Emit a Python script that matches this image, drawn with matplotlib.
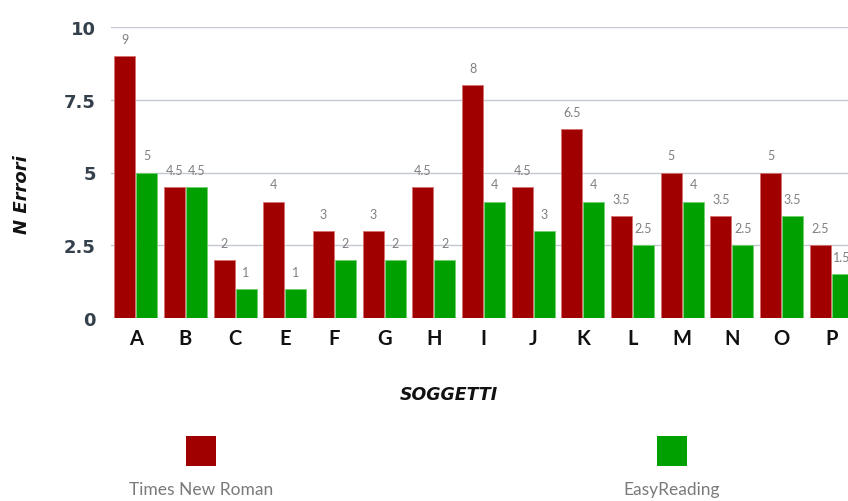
import numpy as np
import matplotlib.pyplot as plt
from matplotlib.patches import Rectangle

soggetti = ["A", "B", "C", "E", "F", "G", "H", "I", "J", "K", "L", "M", "N", "O", "P"]
times_new_roman = [9, 4.5, 2, 4, 3, 3, 4.5, 8, 4.5, 6.5, 3.5, 5, 3.5, 5, 2.5]
easy_reading = [5, 4.5, 1, 1, 2, 2, 2, 4, 3, 4, 2.5, 4, 2.5, 3.5, 1.5]
y_ticks = [0, 2.5, 5, 7.5, 10]
y_tick_labels = ["0", "2.5", "5", "7.5", "10"]

RED = "#a00000"
GREEN = "#00a000"
plt.rcParams["font.family"] = ["Lato", "DejaVu Sans"]

fig = plt.figure(figsize=(8.48, 5.02), dpi=100)
# axes run past the right edge on purpose: the reference is cropped there
ax = fig.add_axes([111 / 848, 183 / 502, 745 / 848, 291 / 502])

x = np.arange(len(soggetti))
w = 0.42
b1 = ax.bar(x - 0.22, times_new_roman, w, color=RED, edgecolor="#d87070", linewidth=0.6, zorder=3)
b2 = ax.bar(x + 0.22, easy_reading, w, color=GREEN, edgecolor="#70d070", linewidth=0.6, zorder=3)

for bars, vals in ((b1, times_new_roman), (b2, easy_reading)):
    for r, v in zip(bars, vals):
        ax.annotate(f"{v:g}", (r.get_x() + r.get_width() / 2, v), xytext=(0, 8),
                    textcoords="offset points", ha="center", va="bottom",
                    fontsize=9, color="#808080")

ax.set_xlim(-0.5, len(soggetti) - 0.5)
ax.set_ylim(0, 10)
ax.set_yticks(y_ticks)
ax.set_yticklabels(y_tick_labels, fontsize=13, fontweight="bold", color="#34404c",
                   family="DejaVu Sans")
ax.set_xticks(x)
ax.set_xticklabels(soggetti, fontsize=14.5, fontweight="bold", color="#111111")
ax.tick_params(axis="y", length=0, pad=11)
ax.tick_params(axis="x", length=0, pad=7)
for s in ax.spines.values():
    s.set_visible(False)
ax.grid(axis="y", color="#c4c8d0", linewidth=1, zorder=0)
ax.set_axisbelow(True)

fig.text(449 / 848, 1 - 395 / 502, "SOGGETTI", ha="center", va="center", family="DejaVu Sans",
         fontsize=12.5, fontweight="bold", fontstyle="italic", color="#111111")
fig.text(22 / 848, 1 - 195 / 502, "N Errori", ha="center", va="center", rotation=90,
         family="DejaVu Sans", fontsize=13, fontweight="bold", fontstyle="italic",
         color="#111111")

# legend: square above label
for cx, col, lab in ((201, RED, "Times New Roman"), (672, GREEN, "EasyReading")):
    fig.add_artist(Rectangle(((cx - 15) / 848, 1 - 467 / 502), 30 / 848, 30 / 502,
                             transform=fig.transFigure, facecolor=col, edgecolor="none"))
    fig.text(cx / 848, 1 - 490 / 502, lab, ha="center", va="center",
             fontsize=12.5, color="#7a7a7a")

fig.savefig("out.png", dpi=100)
plt.close(fig)
